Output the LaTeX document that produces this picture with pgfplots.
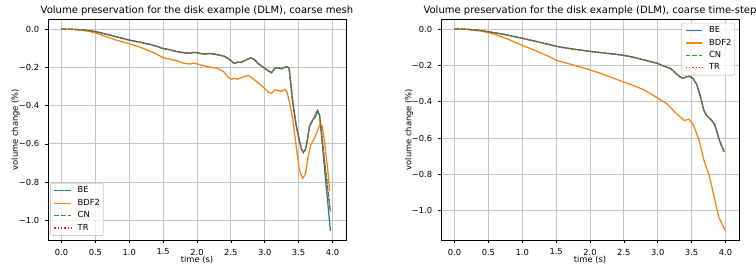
\documentclass[border=0pt]{standalone}
\usepackage{fontspec}
\setmainfont{DejaVu Sans}
\usepackage{pgfplots}
\pgfplotsset{compat=1.18}
\definecolor{c0}{HTML}{1F77B4}
\definecolor{c1}{HTML}{FF7F0E}
\definecolor{c2}{HTML}{2CA02C}
\definecolor{c3}{HTML}{D62728}
\definecolor{gridc}{HTML}{C4C4C4}
\definecolor{legc}{HTML}{CCCCCC}
\newcommand{\tfont}{\fontsize{10bp}{12bp}\selectfont}
\newcommand{\sfont}{\fontsize{8.33bp}{10bp}\selectfont}
\pgfplotsset{
  myax/.style={
    scale only axis, width=298bp, height=221bp, anchor=south west,
    xmin=-0.2, xmax=4.2,
    xtick={0,0.5,1,1.5,2,2.5,3,3.5,4},
    xticklabels={0.0,0.5,1.0,1.5,2.0,2.5,3.0,3.5,4.0},
    ytick={-1,-0.8,-0.6,-0.4,-0.2,0},
    yticklabels={−1.0,−0.8,−0.6,−0.4,−0.2,0.0},
    tick align=outside, major tick length=2.9bp,
    every tick/.style={black, line width=0.67bp},
    xtick pos=bottom, ytick pos=left,
    grid=major, major grid style={color=gridc, line width=0.85bp},
    axis line style={line width=0.7bp},
    tick label style={font=\sfont, inner sep=0pt},
    xticklabel style={anchor=north, yshift=-5.8bp},
    yticklabel style={anchor=east, xshift=-5.8bp},
    legend cell align=left,
    legend image code/.code={\path[draw=none, fill=none] (0bp,0bp) -- (23.4bp,0bp);
      \draw[##1] (0bp,0bp) -- (16.7bp,0bp);},
    legend style={font=\sfont, draw=legc, line width=0.67bp, rounded corners=2bp,
      fill=white, fill opacity=0.8, text opacity=1, inner xsep=3.3bp, inner ysep=3.3bp,
      row sep=4.1bp,
      nodes={inner xsep=0pt, inner ysep=0pt, text height=6.3bp, text depth=2bp}},
  },
  be/.style={color=c0, line width=1.25bp, no marks},
  bdf/.style={color=c1, line width=1.25bp, no marks},
  cn/.style={color=c2, line width=1.25bp, no marks, dash pattern=on 4.6bp off 2bp},
  tr/.style={color=c3, line width=1.25bp, no marks, dash pattern=on 1.25bp off 2.06bp},
}
\begin{document}
\begin{tikzpicture}
% ---------------- left: coarse mesh ----------------
\begin{axis}[myax, at={(48bp,29bp)}, ymin=-1.1025, ymax=0.0525,
  legend style={at={(0.007,0.019)}, anchor=south west}]
\addplot[be] coordinates {
(0.0,0.000) (0.1,-0.001) (0.2,-0.002) (0.3,-0.004) (0.4,-0.008) (0.5,-0.013)
(0.6,-0.022) (0.7,-0.030) (0.8,-0.040) (0.9,-0.048) (1.0,-0.058) (1.1,-0.065)
(1.2,-0.072) (1.3,-0.080) (1.4,-0.090) (1.5,-0.102) (1.6,-0.108) (1.7,-0.118)
(1.8,-0.124) (1.9,-0.126) (1.95,-0.122) (2.0,-0.124) (2.1,-0.131) (2.2,-0.128)
(2.3,-0.134) (2.4,-0.142) (2.45,-0.152) (2.5,-0.165) (2.55,-0.180) (2.6,-0.173)
(2.65,-0.175) (2.7,-0.165) (2.8,-0.150) (2.85,-0.160) (2.9,-0.180) (3.0,-0.205)
(3.05,-0.218) (3.1,-0.228) (3.15,-0.205) (3.2,-0.203) (3.25,-0.207) (3.3,-0.200)
(3.33,-0.197) (3.36,-0.205) (3.41,-0.37) (3.46,-0.494) (3.51,-0.58) (3.54,-0.625)
(3.57,-0.645) (3.60,-0.63) (3.63,-0.58) (3.66,-0.51) (3.71,-0.476) (3.76,-0.45)
(3.78,-0.428) (3.81,-0.45) (3.85,-0.60) (3.89,-0.755) (3.93,-0.905) (3.97,-1.055)
};
\addlegendentry{BE}
\addplot[bdf] coordinates {
(0.0,0.000) (0.1,-0.001) (0.2,-0.003) (0.3,-0.006) (0.4,-0.012) (0.5,-0.020)
(0.6,-0.032) (0.7,-0.045) (0.8,-0.057) (0.9,-0.067) (1.0,-0.077) (1.1,-0.088)
(1.2,-0.100) (1.3,-0.115) (1.4,-0.130) (1.5,-0.150) (1.6,-0.158) (1.7,-0.165)
(1.8,-0.178) (1.9,-0.183) (1.95,-0.178) (2.0,-0.182) (2.1,-0.192) (2.2,-0.200)
(2.3,-0.205) (2.4,-0.225) (2.45,-0.248) (2.5,-0.262) (2.55,-0.258) (2.6,-0.262)
(2.65,-0.255) (2.7,-0.248) (2.75,-0.243) (2.8,-0.252) (2.9,-0.280) (3.0,-0.310)
(3.05,-0.330) (3.1,-0.335) (3.15,-0.318) (3.2,-0.322) (3.25,-0.325) (3.3,-0.316)
(3.33,-0.33) (3.37,-0.39) (3.41,-0.46) (3.46,-0.60) (3.51,-0.735) (3.56,-0.78)
(3.60,-0.76) (3.64,-0.67) (3.68,-0.605) (3.73,-0.575) (3.78,-0.53) (3.82,-0.495)
(3.85,-0.51) (3.88,-0.58) (3.93,-0.735) (3.96,-0.845)
};
\addlegendentry{BDF2}
\addplot[cn] coordinates {
(0.0,0.000) (0.1,-0.001) (0.2,-0.002) (0.3,-0.004) (0.4,-0.008) (0.5,-0.013)
(0.6,-0.022) (0.7,-0.030) (0.8,-0.040) (0.9,-0.048) (1.0,-0.058) (1.1,-0.065)
(1.2,-0.072) (1.3,-0.080) (1.4,-0.090) (1.5,-0.102) (1.6,-0.108) (1.7,-0.118)
(1.8,-0.124) (1.9,-0.126) (1.95,-0.122) (2.0,-0.124) (2.1,-0.131) (2.2,-0.128)
(2.3,-0.134) (2.4,-0.142) (2.45,-0.152) (2.5,-0.165) (2.55,-0.180) (2.6,-0.173)
(2.65,-0.175) (2.7,-0.165) (2.8,-0.150) (2.85,-0.160) (2.9,-0.180) (3.0,-0.205)
(3.05,-0.218) (3.1,-0.228) (3.15,-0.205) (3.2,-0.203) (3.25,-0.207) (3.3,-0.200)
(3.33,-0.197) (3.36,-0.205) (3.41,-0.37) (3.46,-0.494) (3.51,-0.58) (3.54,-0.625)
(3.57,-0.645) (3.60,-0.63) (3.63,-0.58) (3.66,-0.51) (3.69,-0.485) (3.72,-0.47)
(3.75,-0.445) (3.78,-0.425) (3.81,-0.45) (3.85,-0.58) (3.89,-0.71) (3.93,-0.835)
(3.97,-0.955)
};
\addlegendentry{CN}
\addplot[tr] coordinates {
(0.0,0.000) (0.1,-0.001) (0.2,-0.002) (0.3,-0.004) (0.4,-0.008) (0.5,-0.013)
(0.6,-0.022) (0.7,-0.030) (0.8,-0.040) (0.9,-0.048) (1.0,-0.058) (1.1,-0.065)
(1.2,-0.072) (1.3,-0.080) (1.4,-0.090) (1.5,-0.102) (1.6,-0.108) (1.7,-0.118)
(1.8,-0.124) (1.9,-0.126) (1.95,-0.122) (2.0,-0.124) (2.1,-0.131) (2.2,-0.128)
(2.3,-0.134) (2.4,-0.142) (2.45,-0.152) (2.5,-0.165) (2.55,-0.180) (2.6,-0.173)
(2.65,-0.175) (2.7,-0.165) (2.8,-0.150) (2.85,-0.160) (2.9,-0.180) (3.0,-0.205)
(3.05,-0.218) (3.1,-0.228) (3.15,-0.205) (3.2,-0.203) (3.25,-0.207) (3.3,-0.200)
(3.33,-0.197) (3.36,-0.205) (3.41,-0.37) (3.46,-0.494) (3.51,-0.58) (3.54,-0.625)
(3.57,-0.645) (3.60,-0.63) (3.63,-0.58) (3.66,-0.51) (3.69,-0.485) (3.72,-0.47)
(3.75,-0.445) (3.78,-0.425) (3.81,-0.45) (3.85,-0.58) (3.89,-0.71) (3.93,-0.835)
(3.97,-0.955)
};
\addlegendentry{TR}
\end{axis}
% ---------------- right: coarse time-step ----------------
\begin{axis}[myax, at={(441bp,29bp)}, ymin=-1.161, ymax=0.055,
  legend style={at={(0.9866,0.983)}, anchor=north east}]
\addplot[be] coordinates {
(0.0,0.000) (0.2,-0.002) (0.4,-0.009) (0.5,-0.015) (0.6,-0.021) (0.8,-0.035)
(1.0,-0.051) (1.2,-0.068) (1.4,-0.086) (1.5,-0.095) (1.6,-0.102) (1.8,-0.113)
(2.0,-0.123) (2.2,-0.132) (2.4,-0.140) (2.5,-0.145) (2.6,-0.152) (2.8,-0.170)
(3.0,-0.190) (3.1,-0.205) (3.2,-0.220) (3.3,-0.255) (3.36,-0.270) (3.40,-0.268)
(3.46,-0.258) (3.52,-0.272) (3.57,-0.300) (3.61,-0.345) (3.65,-0.400) (3.68,-0.446)
(3.72,-0.475) (3.76,-0.490) (3.80,-0.505) (3.84,-0.525) (3.87,-0.560) (3.90,-0.600)
(3.94,-0.640) (3.98,-0.675)
};
\addlegendentry{BE}
\addplot[bdf] coordinates {
(0.0,0.000) (0.2,-0.003) (0.4,-0.012) (0.5,-0.020) (0.6,-0.030) (0.8,-0.058)
(1.0,-0.090) (1.2,-0.120) (1.4,-0.152) (1.5,-0.172) (1.6,-0.182) (1.8,-0.203)
(2.0,-0.225) (2.2,-0.250) (2.4,-0.278) (2.5,-0.292) (2.6,-0.305) (2.8,-0.335)
(3.0,-0.380) (3.14,-0.413) (3.26,-0.460) (3.39,-0.503) (3.46,-0.497) (3.53,-0.530)
(3.61,-0.611) (3.68,-0.720) (3.76,-0.805) (3.83,-0.920) (3.90,-1.033) (3.99,-1.106)
};
\addlegendentry{BDF2}
\addplot[cn] coordinates {
(0.0,0.000) (0.2,-0.002) (0.4,-0.009) (0.5,-0.015) (0.6,-0.021) (0.8,-0.035)
(1.0,-0.051) (1.2,-0.068) (1.4,-0.086) (1.5,-0.095) (1.6,-0.102) (1.8,-0.113)
(2.0,-0.123) (2.2,-0.132) (2.4,-0.140) (2.5,-0.145) (2.6,-0.152) (2.8,-0.170)
(3.0,-0.190) (3.1,-0.205) (3.2,-0.220) (3.3,-0.255) (3.36,-0.270) (3.40,-0.268)
(3.46,-0.258) (3.52,-0.272) (3.57,-0.300) (3.61,-0.345) (3.65,-0.400) (3.68,-0.446)
(3.72,-0.475) (3.76,-0.490) (3.80,-0.505) (3.84,-0.525) (3.87,-0.560) (3.90,-0.600)
(3.94,-0.640) (3.98,-0.675)
};
\addlegendentry{CN}
\addplot[tr] coordinates {
(0.0,0.000) (0.2,-0.002) (0.4,-0.009) (0.5,-0.015) (0.6,-0.021) (0.8,-0.035)
(1.0,-0.051) (1.2,-0.068) (1.4,-0.086) (1.5,-0.095) (1.6,-0.102) (1.8,-0.113)
(2.0,-0.123) (2.2,-0.132) (2.4,-0.140) (2.5,-0.145) (2.6,-0.152) (2.8,-0.170)
(3.0,-0.190) (3.1,-0.205) (3.2,-0.220) (3.3,-0.255) (3.36,-0.270) (3.40,-0.268)
(3.46,-0.258) (3.52,-0.272) (3.57,-0.300) (3.61,-0.345) (3.65,-0.400) (3.68,-0.446)
(3.72,-0.475) (3.76,-0.490) (3.80,-0.505) (3.84,-0.525) (3.87,-0.560) (3.90,-0.600)
(3.94,-0.640) (3.98,-0.675)
};
\addlegendentry{TR}
\end{axis}
% ---------------- titles and axis labels ----------------
\node[font=\tfont, anchor=base, inner sep=0pt] at (197bp,255bp)
  {Volume preservation for the disk example (DLM), coarse mesh};
\node[font=\tfont, anchor=base, inner sep=0pt] at (590bp,255bp)
  {Volume preservation for the disk example (DLM), coarse time-step};
\node[font=\sfont, anchor=base, inner sep=0pt] at (197bp,6.7bp) {time (s)};
\node[font=\sfont, anchor=base, inner sep=0pt] at (590bp,6.7bp) {time (s)};
\node[font=\sfont, rotate=90, inner sep=0pt] at (15.7bp,139.5bp) {volume change (\%)};
\node[font=\sfont, rotate=90, inner sep=0pt] at (409bp,139.5bp) {volume change (\%)};
\pgfresetboundingbox
\path[use as bounding box] (0bp,0bp) rectangle (756bp,269bp);
\end{tikzpicture}
\end{document}
